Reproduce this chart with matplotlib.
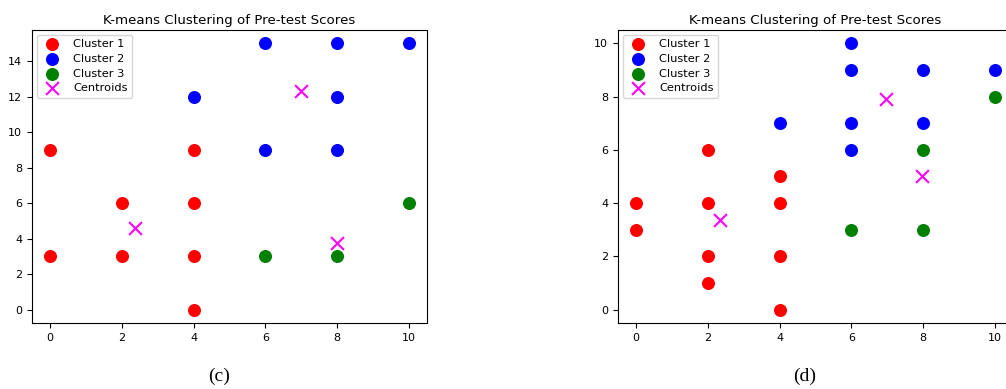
import numpy as np
import matplotlib
matplotlib.use("Agg")
import matplotlib.pyplot as plt

# panel (c)
c1_x = [0, 0, 2, 2, 4, 4, 4, 4]
c1_y = [9, 3, 6, 3, 9, 6, 3, 0]
c2_x = [6, 8, 10, 4, 8, 6, 8]
c2_y = [15, 15, 15, 12, 12, 9, 9]
c3_x = [10, 6, 8]
c3_y = [6, 3, 3]
cent_c_x = [2.36, 7.0, 8.0]
cent_c_y = [4.62, 12.3, 3.75]

# panel (d)
d1_x = [0, 0, 2, 2, 2, 2, 4, 4, 4, 4]
d1_y = [4, 3, 6, 4, 2, 1, 5, 4, 2, 0]
d2_x = [6, 6, 8, 10, 4, 6, 8, 6]
d2_y = [10, 9, 9, 9, 7, 7, 7, 6]
d3_x = [10, 8, 6, 8]
d3_y = [8, 6, 3, 3]
cent_d_x = [2.34, 6.97, 7.97]
cent_d_y = [3.36, 7.9, 5.0]

fig = plt.figure(figsize=(10.06, 3.89), dpi=100)
ax1 = fig.add_axes([0.0318, 0.1697, 0.3926, 0.7532])
ax2 = fig.add_axes([0.6143, 0.1697, 0.3926, 0.7532])

panels = [
    (ax1, (c1_x, c1_y), (c2_x, c2_y), (c3_x, c3_y), (cent_c_x, cent_c_y)),
    (ax2, (d1_x, d1_y), (d2_x, d2_y), (d3_x, d3_y), (cent_d_x, cent_d_y)),
]

for ax, g1, g2, g3, cen in panels:
    ax.scatter(g1[0], g1[1], s=70, c="red", label="Cluster 1")
    ax.scatter(g2[0], g2[1], s=70, c="blue", label="Cluster 2")
    ax.scatter(g3[0], g3[1], s=70, c="green", label="Cluster 3")
    ax.scatter(cen[0], cen[1], s=85, c="magenta", marker="x", label="Centroids")
    ax.set_title("K-means Clustering of Pre-test Scores", fontsize=9.6, pad=4)
    ax.tick_params(labelsize=8)
    ax.set_xticks([0, 2, 4, 6, 8, 10])
    ax.legend(loc="upper left", fontsize=8.2, labelspacing=0.42, handletextpad=0.8,
              borderaxespad=0.4)

fig.text(0.2177, 0.02, "(c)", family="Liberation Serif", fontsize=14, ha="center")
fig.text(0.8002, 0.02, "(d)", family="Liberation Serif", fontsize=14, ha="center")

fig.savefig("out.png", dpi=100)
